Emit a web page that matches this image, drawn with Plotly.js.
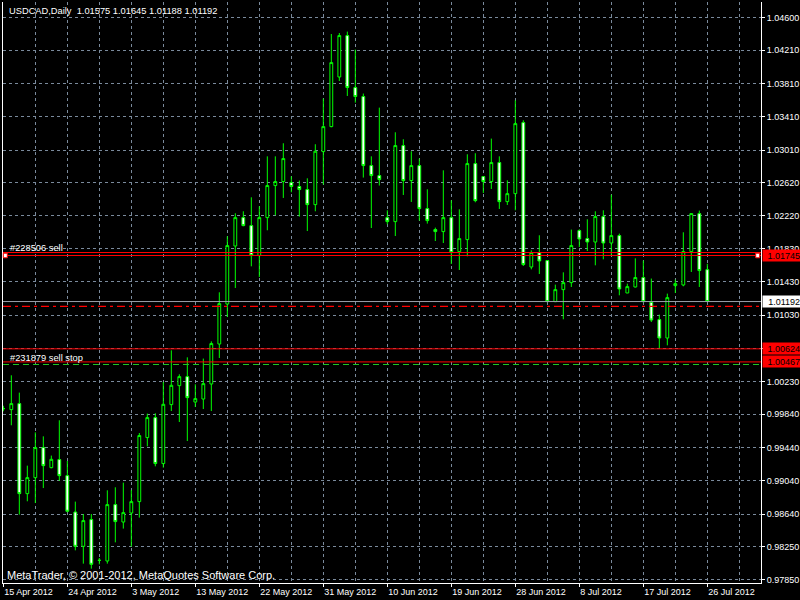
<!DOCTYPE html>
<html><head><meta charset="utf-8">
<script src="https://cdn.plot.ly/plotly-3.0.1.min.js"></script>
<style>html,body{margin:0;padding:0;background:#000;}#chart{width:800px;height:600px;}</style>
</head><body><div id="chart"></div>
<script>
const symbolName = 'USDCAD,Daily';
const dates = [
 '2012-04-15','2012-04-16','2012-04-17','2012-04-18','2012-04-19','2012-04-20',
 '2012-04-22','2012-04-23','2012-04-24','2012-04-25','2012-04-26','2012-04-27',
 '2012-04-29','2012-04-30','2012-05-01','2012-05-02','2012-05-03','2012-05-04',
 '2012-05-06','2012-05-07','2012-05-08','2012-05-09','2012-05-10','2012-05-11',
 '2012-05-13','2012-05-14','2012-05-15','2012-05-16','2012-05-17','2012-05-18',
 '2012-05-20','2012-05-21','2012-05-22','2012-05-23','2012-05-24','2012-05-25',
 '2012-05-27','2012-05-28','2012-05-29','2012-05-30','2012-05-31','2012-06-01',
 '2012-06-03','2012-06-04','2012-06-05','2012-06-06','2012-06-07','2012-06-08',
 '2012-06-10','2012-06-11','2012-06-12','2012-06-13','2012-06-14','2012-06-15',
 '2012-06-17','2012-06-18','2012-06-19','2012-06-20','2012-06-21','2012-06-22',
 '2012-06-24','2012-06-25','2012-06-26','2012-06-27','2012-06-28','2012-06-29',
 '2012-07-01','2012-07-02','2012-07-03','2012-07-04','2012-07-05','2012-07-06',
 '2012-07-08','2012-07-09','2012-07-10','2012-07-11','2012-07-12','2012-07-13',
 '2012-07-15','2012-07-16','2012-07-17','2012-07-18','2012-07-19','2012-07-20',
 '2012-07-22','2012-07-23','2012-07-24','2012-07-25','2012-07-26'
];
const open = [
 0.99906,0.99894,0.99966,0.98885,0.99077,0.99438,0.99197,0.99294,0.99101,0.98664,
 0.98252,0.98573,0.98084,0.98076,0.98753,0.98544,0.98652,0.98789,0.99558,0.99798,
 0.99246,0.99954,1.00182,1.00290,0.99985,1.00021,1.00202,1.00682,1.01162,1.01859,
 1.02200,1.02104,1.01744,1.02200,1.02585,1.02633,1.02621,1.02573,1.02537,1.02356,
 1.02993,1.03293,1.03889,1.04386,1.03762,1.03654,1.02825,1.02705,1.02200,1.02152,
 1.03065,1.02645,1.02825,1.02308,1.02056,1.02032,1.02200,1.01792,1.01936,1.02849,
 1.02693,1.02633,1.02861,1.02392,1.02488,1.03341,1.01607,1.01780,1.01684,1.01191,
 1.01335,1.01419,1.02044,1.01948,1.01907,1.02212,1.01895,1.01984,1.01295,1.01367,
 1.01480,1.01183,1.00975,1.00754,1.01383,1.01391,1.01792,1.02248,1.01575
];
const high = [
 0.99940,1.00306,1.00098,0.99221,0.99621,0.99573,0.99342,0.99766,0.99277,0.98789,
 0.98640,0.98640,0.98112,0.98925,0.98961,0.99017,0.98928,0.99613,0.99846,0.99850,
 1.00226,1.00606,1.00318,1.00522,1.00198,1.00507,1.00714,1.01303,1.01976,1.02252,
 1.02276,1.02444,1.02336,1.02936,1.02936,1.03093,1.02696,1.02645,1.02672,1.03081,
 1.03630,1.04405,1.04417,1.04434,1.04218,1.03690,1.02936,1.03521,1.02288,1.03225,
 1.03141,1.02997,1.02909,1.02540,1.02080,1.02768,1.02408,1.02300,1.02961,1.02973,
 1.02695,1.03149,1.02936,1.02648,1.03609,1.03369,1.01807,1.01988,1.01690,1.01395,
 1.01543,1.02056,1.02060,1.02180,1.02276,1.02288,1.02476,1.02008,1.01407,1.01711,
 1.01684,1.01468,1.01035,1.01287,1.01456,1.02024,1.02250,1.02284,1.01645
];
const low = [
 0.99874,0.99706,0.98633,0.98793,0.98772,0.98952,0.99189,0.99037,0.98661,0.98204,
 0.98044,0.97984,0.98036,0.98044,0.98300,0.98465,0.98249,0.98597,0.99453,0.99213,
 0.99197,0.99877,0.99745,0.99517,0.99925,0.99901,0.99877,1.00514,1.01006,1.01355,
 1.02096,1.01615,1.01487,1.02048,1.02228,1.02436,1.02504,1.02212,1.02039,1.02276,
 1.02597,1.03285,1.03841,1.03661,1.03581,1.02681,1.02075,1.02585,1.02120,1.01979,
 1.02472,1.02388,1.02164,1.02128,1.01919,1.01895,1.01643,1.01571,1.01735,1.02384,
 1.02496,1.02544,1.02304,1.02352,1.02288,1.01619,1.01579,1.01523,1.01188,1.01185,
 1.00979,1.01367,1.01847,1.01799,1.01627,1.01699,1.01739,1.01267,1.01293,1.01361,
 1.01183,1.00946,1.00627,1.00666,1.01295,1.01375,1.01547,1.01367,1.01188
];
const close = [
 0.99906,0.99966,0.98885,0.99077,0.99438,0.99221,0.99297,0.99101,0.98673,0.98252,
 0.98561,0.98036,0.98084,0.98753,0.98549,0.98657,0.98789,0.99582,0.99798,0.99246,
 0.99958,1.00186,1.00290,1.00038,1.00026,1.00206,1.00687,1.01167,1.01864,1.02200,
 1.02104,1.01744,1.02200,1.02585,1.02633,1.02909,1.02573,1.02537,1.02356,1.02997,
 1.03293,1.04062,1.04386,1.03762,1.03654,1.02825,1.02705,1.02657,1.02152,1.03065,
 1.02645,1.02825,1.02308,1.02164,1.02032,1.02200,1.01780,1.01948,1.02849,1.02404,
 1.02633,1.02861,1.02392,1.02488,1.03329,1.01636,1.01780,1.01679,1.01191,1.01335,
 1.01419,1.01864,1.01943,1.01907,1.02212,1.01895,1.01984,1.01343,1.01371,1.01480,
 1.01191,1.00970,1.00754,1.01239,1.01407,1.01792,1.02248,1.01564,1.01192
];
const tickDates = ['2012-04-15','2012-04-24','2012-05-03','2012-05-13','2012-05-22','2012-05-31',
 '2012-06-10','2012-06-19','2012-06-28','2012-07-08','2012-07-17','2012-07-26'];
const tickLabels = ['15 Apr 2012','24 Apr 2012','3 May 2012','13 May 2012','22 May 2012','31 May 2012',
 '10 Jun 2012','19 Jun 2012','28 Jun 2012','8 Jul 2012','17 Jul 2012','26 Jul 2012'];
const priceTicks = [1.04600,1.04210,1.03810,1.03410,1.03010,1.02620,1.02220,1.01830,1.01430,
 1.01030,1.00630,1.00230,0.99840,0.99440,0.99040,0.98640,0.98250,0.97850];

// horizontal levels
const orderSellLevel = 1.01781;   // #228506 sell
const hLineLevel = 1.01745;       // selected horizontal line
const bidLevel = 1.01192;
const stopLevel = 1.01133;        // dash-dot
const level2 = 1.00624;
const sellStopLevel = 1.00467;    // #231879 sell stop
const greenLevel = 1.00436;

const FONT = 'Liberation Sans, Arial, sans-serif';
const GRID = '#7a8a9c';
const n = dates.length;
const xIdx = dates.map((d, i) => i);
const tickIdx = tickDates.map(d => dates.indexOf(d));

const trace = {
  type: 'candlestick',
  x: xIdx, open: open, high: high, low: low, close: close,
  increasing: {line: {color: '#00ff00', width: 1}, fillcolor: '#000000'},
  decreasing: {line: {color: '#00ff00', width: 1}, fillcolor: '#ffffff'},
  whiskerwidth: 0,
  hoverinfo: 'none',
  showlegend: false
};

function hline(y, color, dash, width) {
  return {type: 'line', xref: 'paper', x0: 0, x1: 1, yref: 'y', y0: y, y1: y,
    line: {color: color, width: width || 1, dash: dash || 'solid'}, layer: 'above'};
}
function handle(xa, px0, px1, y) {
  return {type: 'rect', xref: 'paper', xsizemode: 'pixel', xanchor: xa, x0: px0, x1: px1,
    yref: 'y', ysizemode: 'pixel', yanchor: y, y0: -2.3, y1: 2.3,
    fillcolor: '#ffffff', line: {color: '#ff0000', width: 1}, layer: 'above'};
}
function priceBox(y, txt, bg, fg) {
  return {xref: 'paper', x: 1.00132, xanchor: 'left', yref: 'y', y: y, yanchor: 'middle',
    text: txt, showarrow: false, align: 'right', width: 36, height: 9, borderpad: 1,
    bgcolor: bg, font: {family: FONT, size: 9, color: fg}};
}

const layout = {
  width: 800, height: 600,
  paper_bgcolor: '#000000', plot_bgcolor: '#000000',
  margin: {l: 3, r: 39, t: 2, b: 17},
  boxgap: 0.5,
  dragmode: false,
  xaxis: {
    type: 'linear', range: [-0.04, 94.71], fixedrange: true,
    tickmode: 'array', tickvals: tickIdx, ticktext: tickLabels,
    ticks: 'outside', ticklen: 3, tickcolor: '#ffffff', tickwidth: 1,
    ticklabelposition: 'outside right',
    tickfont: {family: FONT, size: 9, color: '#ffffff'},
    showgrid: true, gridcolor: GRID, griddash: '3px,3px', gridwidth: 1,
    minor: {tickmode: 'linear', tick0: 0, dtick: 4, showgrid: true, gridcolor: GRID, griddash: '3px,3px', gridwidth: 1, ticks: ''},
    showline: true, linecolor: '#ffffff', linewidth: 1, zeroline: false,
    rangeslider: {visible: false}
  },
  yaxis: {
    side: 'right', range: [0.978116, 1.047896], fixedrange: true,
    tickmode: 'array', tickvals: priceTicks, tickformat: '.5f',
    ticks: 'outside', ticklen: 3, tickcolor: '#ffffff', tickwidth: 1,
    tickfont: {family: FONT, size: 9, color: '#ffffff'},
    showgrid: true, gridcolor: GRID, griddash: '3px,3px', gridwidth: 1,
    showline: true, mirror: true, linecolor: '#ffffff', linewidth: 1, zeroline: false
  },
  shapes: [
    hline(orderSellLevel, '#ff0000'),
    hline(hLineLevel, '#ff0000'),
    hline(bidLevel, '#9aa2ac'),
    hline(stopLevel, '#ff0000', '8px,4px,3px,4px', 1.2),
    hline(level2, '#ff0000'),
    hline(sellStopLevel, '#ff0000'),
    hline(greenLevel, '#22c322', '6px,4px', 1.2),
    handle(0, 0.3, 4.3, hLineLevel),
    handle(1, -5.3, -1.3, hLineLevel)
  ],
  annotations: [
    {xref: 'paper', x: 0.0057, xanchor: 'left', yref: 'paper', y: 0.98485, yanchor: 'middle',
     text: symbolName + '\u00a0\u00a0' + [open[n-1], high[n-1], low[n-1], close[n-1]].map(v => v.toFixed(5)).join(' '),
     showarrow: false, font: {family: FONT, size: 9.3, color: '#ffffff'}},
    {xref: 'paper', x: 0.0026, xanchor: 'left', yref: 'paper', y: 0.0139, yanchor: 'middle',
     text: 'MetaTrader, © 2001-2012, MetaQuotes Software Corp.',
     showarrow: false, font: {family: FONT, size: 11, color: '#ffffff'}},
    {xref: 'paper', x: 0.007, xanchor: 'left', yref: 'y', y: orderSellLevel, yanchor: 'middle', yshift: 5,
     text: '#228506 sell', showarrow: false, font: {family: FONT, size: 9.3, color: '#ffffff'}},
    {xref: 'paper', x: 0.007, xanchor: 'left', yref: 'y', y: sellStopLevel, yanchor: 'middle', yshift: 4.3,
     text: '#231879 sell stop', showarrow: false, font: {family: FONT, size: 9.3, color: '#ffffff'}},
    priceBox(hLineLevel, hLineLevel.toFixed(5), '#ff0000', '#000000'),
    priceBox(bidLevel, bidLevel.toFixed(5), '#ffffff', '#000000'),
    priceBox(level2, level2.toFixed(5), '#ff0000', '#000000'),
    priceBox(sellStopLevel, sellStopLevel.toFixed(5), '#ff0000', '#000000')
  ]
};

Plotly.newPlot('chart', [trace], layout, {displayModeBar: false, staticPlot: true});
</script>
</body></html>
